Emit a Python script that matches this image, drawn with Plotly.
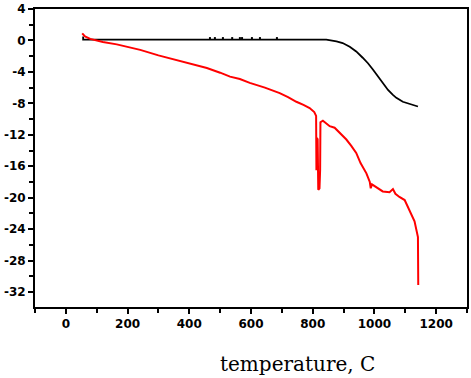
import plotly.graph_objects as go

# ---- data ----
black_T = [56, 56, 100, 200, 300, 400, 500, 600, 700, 800, 844, 877, 897, 920, 941,
           962, 979, 995, 1011, 1027, 1044, 1059, 1071, 1092, 1115, 1141]
black_V = [0.5, 0.1, 0.1, 0.1, 0.1, 0.1, 0.1, 0.1, 0.1, 0.1, 0.1, -0.13, -0.33, -0.8, -1.4,
           -2.2, -2.9, -3.7, -4.6, -5.4, -6.3, -6.9, -7.3, -7.8, -8.1, -8.4]

black_dot_T = [467, 483, 509, 539, 564, 571, 603, 629, 684]
black_dot_V = [0.3, 0.3, 0.3, 0.3, 0.3, 0.3, 0.3, 0.3, 0.3]

red_T = [53, 62, 79, 90, 120, 165, 200, 241, 300, 360, 410, 457, 500, 532, 564, 596,
         645, 693, 720, 747, 770, 790, 805, 811, 812, 814, 816, 818, 822, 824, 825,
         833, 855, 871, 890, 909, 925, 941, 955, 974, 985, 988, 992, 1006, 1027,
         1049, 1060, 1068, 1081, 1098, 1114, 1130, 1141, 1142]
red_V = [0.9, 0.5, 0.2, 0.1, -0.2, -0.5, -0.8, -1.2, -1.9, -2.5, -3.0, -3.5, -4.1, -4.6,
         -4.9, -5.4, -6.0, -6.7, -7.2, -7.8, -8.2, -8.6, -9.1, -9.6, -16.5, -12.4,
         -12.6, -19.0, -18.8, -16.5, -10.4, -10.2, -10.9, -11.1, -11.8, -12.6, -13.4,
         -14.3, -15.6, -16.9, -18.0, -18.8, -18.3, -18.7, -19.2, -19.3, -18.9, -19.5,
         -19.9, -20.3, -21.6, -23.0, -25.0, -31.1]

x_ticks = [0, 200, 400, 600, 800, 1000, 1200]
x_ticktext = ["0", "200", "400", "600", "800", "1000", "1200"]
y_ticks = [4, 0, -4, -8, -12, -16, -20, -24, -28, -32]
y_ticktext = ["4", "0", "-4", "-8", "-12", "-16", "-20", "-24", "-28", "-32"]
x_title = "temperature, C"

fig = go.Figure()
fig.add_trace(go.Scatter(x=black_T, y=black_V, mode="lines",
                         line=dict(color="black", width=1.8), showlegend=False))
fig.add_trace(go.Scatter(x=black_dot_T, y=black_dot_V, mode="markers",
                         marker=dict(color="black", size=2, symbol="square",
                                     line=dict(width=0)),
                         showlegend=False))
fig.add_trace(go.Scatter(x=red_T, y=red_V, mode="lines",
                         line=dict(color="#ff0000", width=2), showlegend=False))

tick_font = dict(family="DejaVu Sans", size=12, color="black", weight="bold")

fig.update_layout(
    width=471, height=378, autosize=False,
    margin=dict(l=35, r=4, t=9, b=71),
    paper_bgcolor="white", plot_bgcolor="white",
    xaxis=dict(range=[-100, 1300], tickvals=x_ticks, ticktext=x_ticktext,
               automargin=False,
               ticks="outside", ticklen=5, tickwidth=1.5, tickcolor="black",
               showline=True, linecolor="black", linewidth=1.8, mirror=True,
               showgrid=False, zeroline=False, tickfont=tick_font,
               minor=dict(dtick=100, tick0=0, ticks="outside", ticklen=4,
                          tickwidth=1.5, tickcolor="black", showgrid=False)),
    yaxis=dict(range=[-33.9, 4], tickvals=y_ticks, ticktext=y_ticktext,
               automargin=False,
               ticks="outside", ticklen=5, tickwidth=1.5, tickcolor="black",
               showline=True, linecolor="black", linewidth=1.8, mirror=True,
               showgrid=False, zeroline=False, tickfont=tick_font,
               minor=dict(dtick=2, tick0=0, ticks="outside", ticklen=4,
                          tickwidth=1.5, tickcolor="black", showgrid=False)),
    annotations=[dict(text=x_title, xref="paper", yref="paper",
                      x=0.6076, y=-0.191, xanchor="center", yanchor="middle",
                      showarrow=False,
                      font=dict(family="DejaVu Serif", size=20, color="black"))],
)

fig.write_html("out.html", config={"displayModeBar": False},
               post_script="document.body.style.margin='0';document.body.style.overflow='hidden';")
